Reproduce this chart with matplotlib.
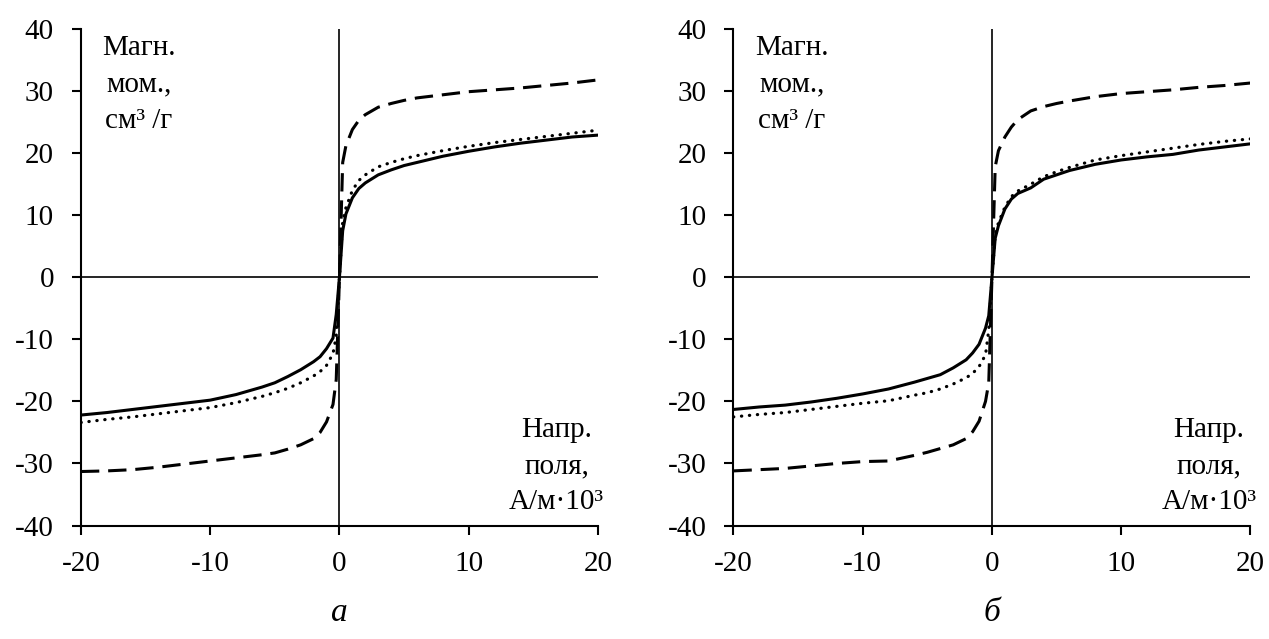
import matplotlib
matplotlib.use("Agg")
import matplotlib.pyplot as plt

plt.rcParams["font.family"] = ["Liberation Serif", "DejaVu Serif"]
plt.rcParams["axes.unicode_minus"] = False

# field strength grid, A/m*10^3 (same for all curves)
field = [-20, -18, -16, -14, -12, -10, -8, -6, -5, -4, -3, -2, -1.5, -1, -0.5, -0.25,
         0, 0.25, 0.5, 1, 1.5, 2, 3, 4, 5, 6, 8, 10, 12, 14, 16, 18, 20]

# panel "а"
a_solid = [-22.2, -21.8, -21.3, -20.8, -20.3, -19.8, -18.9, -17.7, -17.0, -16.0, -14.9, -13.6,
           -12.8, -11.5, -9.8, -6.0, 0, 7.5, 10.2, 12.8, 14.3, 15.2, 16.5, 17.3, 18.0, 18.5,
           19.5, 20.3, 21.0, 21.6, 22.1, 22.6, 22.9]
a_dotted = [-23.4, -22.9, -22.5, -22.0, -21.5, -21.0, -20.2, -19.2, -18.6, -17.9, -17.0, -15.9,
            -15.2, -14.2, -12.3, -9.5, 0, 9.0, 11.2, 14.0, 15.6, 16.5, 17.8, 18.5, 19.1, 19.6,
            20.4, 21.1, 21.7, 22.2, 22.7, 23.2, 23.7]
a_dashed = [-31.3, -31.2, -31.0, -30.6, -30.1, -29.6, -29.1, -28.6, -28.3, -27.7, -27.0, -26.0,
            -25.0, -23.3, -20.5, -16.5, 0, 18.5, 21.2, 23.8, 25.3, 26.2, 27.4, 28.0, 28.5, 28.9,
            29.4, 29.9, 30.2, 30.5, 30.9, 31.3, 31.8]

# panel "б"
b_solid = [-21.3, -20.9, -20.6, -20.1, -19.5, -18.8, -18.0, -16.9, -16.3, -15.7, -14.6, -13.3,
           -12.2, -10.8, -8.2, -6.2, 0, 6.3, 8.3, 11.0, 12.6, 13.5, 14.4, 15.8, 16.5, 17.2,
           18.2, 18.9, 19.4, 19.8, 20.5, 21.0, 21.5]
b_dotted = [-22.5, -22.1, -21.8, -21.3, -20.8, -20.3, -19.9, -19.0, -18.6, -18.0, -17.2, -16.2,
            -15.5, -14.4, -12.5, -8.5, 0, 6.8, 8.8, 11.3, 13.0, 13.9, 15.0, 16.2, 17.0, 17.7,
            18.9, 19.6, 20.2, 20.8, 21.4, 21.9, 22.3]
b_dashed = [-31.2, -31.0, -30.8, -30.4, -30.0, -29.7, -29.6, -28.7, -28.2, -27.6, -27.0, -26.0,
            -24.9, -23.2, -20.0, -17.0, 0, 17.8, 20.4, 22.6, 24.2, 25.4, 26.8, 27.5, 28.0, 28.4,
            29.1, 29.6, 29.9, 30.2, 30.6, 30.9, 31.3]

x_ticks = [-20, -10, 0, 10, 20]
y_ticks = [-40, -30, -20, -10, 0, 10, 20, 30, 40]
y_label = "Магн.\nмом.,\nсм³ /г"
x_label = "Напр.\nполя,\nА/м·10³"
panel_names = ["а", "б"]

fig = plt.figure(figsize=(12.69, 6.39), dpi=100)
axes = [fig.add_axes([0.0638, 0.1776, 0.4074, 0.777]),
        fig.add_axes([0.578, 0.1776, 0.4074, 0.777])]

panels = [(a_solid, a_dotted, a_dashed), (b_solid, b_dotted, b_dashed)]
for ax, (solid, dotted, dashed), name in zip(axes, panels, panel_names):
    ax.axhline(0, color="black", lw=1.2, zorder=1)
    ax.axvline(0, color="black", lw=1.2, zorder=1)
    ax.plot(field, solid, color="black", lw=2.2, zorder=3)
    ax.plot(field, dotted, color="black", lw=2.3, linestyle=(0, (0.1, 2.4)),
            dash_capstyle="round", zorder=3)
    ax.plot(field, dashed, color="black", lw=2.2, linestyle=(0, (6, 2.9)), zorder=3)

    ax.set_xlim(-20, 20)
    ax.set_ylim(-40, 40)
    ax.set_xticks(x_ticks)
    ax.set_yticks(y_ticks)
    for side in ("top", "right"):
        ax.spines[side].set_visible(False)
    for side in ("left", "bottom"):
        ax.spines[side].set_linewidth(1.5)
    ax.tick_params(direction="out", length=6.5, width=1.5, labelsize=21, pad=12)
    ax.tick_params(axis="y", pad=13)

    ax.text(-15.5, 24.1, y_label, ha="center", va="baseline", fontsize=21, linespacing=1.52)
    ax.text(16.8, -37.4, x_label, ha="center", va="baseline", fontsize=21, linespacing=1.52)
    ax.text(0, -54, name, ha="center", va="center", fontsize=24, style="italic")

fig.savefig("out.png", dpi=100)
